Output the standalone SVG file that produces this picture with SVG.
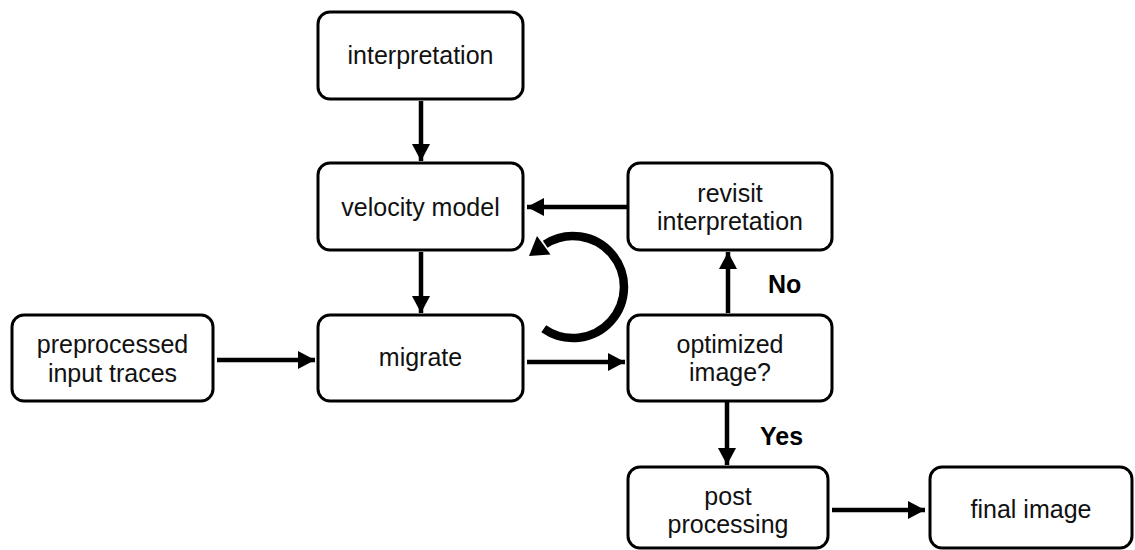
<svg xmlns="http://www.w3.org/2000/svg" width="1135" height="550" viewBox="0 0 1135 550">
<style>
.box{fill:#fff;stroke:#000;stroke-width:3}
.t{font-family:"Liberation Sans",Arial,sans-serif;font-size:25px;fill:#111;text-anchor:middle}
.b{font-family:"Liberation Sans",Arial,sans-serif;font-size:25px;font-weight:bold;fill:#000}
.c{stroke:#000;stroke-width:4.5;fill:none}
</style>
<defs>
<marker id="ah" markerUnits="userSpaceOnUse" markerWidth="18" markerHeight="18" refX="17" refY="9" orient="auto">
<path d="M0,0 L17,9 L0,18 Z" fill="#000"/>
</marker>
</defs>
<rect width="1135" height="550" fill="#fff"/>
<g id="connectors">
<line class="c" x1="421" y1="101" x2="421" y2="161" marker-end="url(#ah)"/>
<line class="c" x1="628" y1="207" x2="527" y2="207" marker-end="url(#ah)"/>
<line class="c" x1="421" y1="252" x2="421" y2="313" marker-end="url(#ah)"/>
<line class="c" x1="217" y1="360" x2="315" y2="360" marker-end="url(#ah)"/>
<line class="c" x1="527" y1="362" x2="625" y2="362" marker-end="url(#ah)"/>
<line class="c" x1="728" y1="313" x2="728" y2="252" marker-end="url(#ah)"/>
<line class="c" x1="727" y1="402" x2="727" y2="465" marker-end="url(#ah)"/>
<line class="c" x1="832" y1="510" x2="925" y2="510" marker-end="url(#ah)"/>
<path d="M543.75,328.8 A51,51 0 1 0 545.2,244.2" stroke="#000" stroke-width="8.5" fill="none"/>
<polygon points="529,256 550.5,254.5 537,236" fill="#000"/>
<text class="b" x="768" y="293">No</text>
<text class="b" x="760" y="445">Yes</text>
</g>
<g id="interpretation">
<rect class="box" x="318" y="12" width="205" height="87" rx="12"/>
<text class="t" x="420.5" y="64">interpretation</text>
</g>
<g id="velocity">
<rect class="box" x="318" y="163" width="205" height="87" rx="12"/>
<text class="t" x="420.5" y="216">velocity model</text>
</g>
<g id="revisit">
<rect class="box" x="628" y="163" width="204" height="87" rx="12"/>
<text class="t" x="730" y="202">revisit</text>
<text class="t" x="730" y="230">interpretation</text>
</g>
<g id="preprocessed">
<rect class="box" x="12" y="315" width="201" height="86" rx="12"/>
<text class="t" x="112.5" y="353">preprocessed</text>
<text class="t" x="112.5" y="382">input traces</text>
</g>
<g id="migrate">
<rect class="box" x="318" y="315" width="205" height="86" rx="12"/>
<text class="t" x="420.5" y="366">migrate</text>
</g>
<g id="optimized">
<rect class="box" x="628" y="315" width="204" height="86" rx="12"/>
<text class="t" x="730" y="353">optimized</text>
<text class="t" x="730" y="381">image?</text>
</g>
<g id="post">
<rect class="box" x="628" y="467" width="200" height="81" rx="12"/>
<text class="t" x="728" y="505">post</text>
<text class="t" x="728" y="533">processing</text>
</g>
<g id="final">
<rect class="box" x="930" y="467" width="202" height="81" rx="12"/>
<text class="t" x="1031" y="518">final image</text>
</g>
</svg>
